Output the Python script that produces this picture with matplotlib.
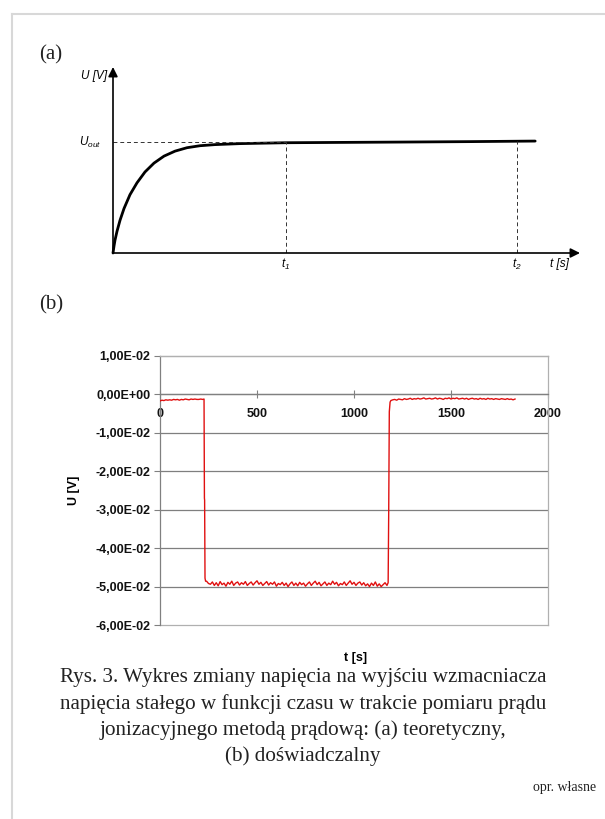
import matplotlib
matplotlib.use("Agg")
import matplotlib.pyplot as plt
import numpy as np
from matplotlib.lines import Line2D
from matplotlib.ticker import FuncFormatter

plt.rcParams['font.family'] = ['Liberation Sans', 'DejaVu Sans']
plt.rcParams['mathtext.fontset'] = 'custom'
plt.rcParams['mathtext.it'] = 'Liberation Sans:italic'
plt.rcParams['mathtext.rm'] = 'Liberation Sans:italic'

# ---- panel (a): theoretical curve (U scaled so that Uout = 1) ----
a_t = [0, 0.214, 0.428, 0.857, 1.50, 2.36, 3.64, 5.14, 6.85, 8.78, 10.92,
       13.28, 15.85, 18.63, 21.84, 27.19, 37.0, 61.5, 76.4, 90.4]
a_u = [0, 0.062, 0.116, 0.196, 0.295, 0.402, 0.527, 0.634, 0.732, 0.812,
       0.875, 0.920, 0.951, 0.969, 0.979, 0.988, 0.996, 1.002, 1.006, 1.011]
a_t1 = 37.0
a_t2 = 86.5
a_uout = 1.0

# ---- panel (b): measured output voltage, values in 1e-2 V ----
b_t_start = [0, 10, 20, 30, 40, 50, 60, 70, 80, 90, 100, 110, 120, 130,
             140, 150, 160, 170, 180, 190, 200, 210, 220, 227]
b_u_start = [-0.17, -0.15, -0.16, -0.14, -0.15, -0.14, -0.15, -0.13, -0.14,
             -0.13, -0.15, -0.13, -0.14, -0.12, -0.13, -0.14, -0.12, -0.13,
             -0.12, -0.13, -0.13, -0.12, -0.13, -0.12]
b_t_fall = [229, 230, 232, 235]
b_u_fall = [-2.70, -2.75, -4.78, -4.86]
b_t_low = np.arange(240, 1180, 10)
b_u_low = [-4.86, -4.92, -4.94, -4.88, -4.97, -4.90, -4.98, -4.87, -4.95, -4.91,
           -4.99, -4.89, -4.94, -4.86, -4.97, -4.91, -4.88, -4.96, -4.90, -4.94,
           -4.87, -4.97, -4.92, -4.88, -4.96, -4.90, -4.85, -4.94, -4.89, -4.97,
           -4.92, -4.87, -4.96, -4.90, -4.94, -4.88, -4.99, -4.92, -4.95, -4.89,
           -4.97, -4.91, -5.00, -4.93, -4.88, -4.97, -4.91, -4.98, -4.89, -4.95,
           -4.91, -4.99, -4.93, -4.88, -4.97, -4.91, -4.86, -4.95, -4.89, -4.98,
           -4.93, -4.88, -4.97, -4.91, -4.95, -4.86, -4.94, -4.89, -4.98, -4.92,
           -4.95, -4.88, -4.97, -4.91, -4.85, -4.94, -4.89, -4.97, -4.91, -4.88,
           -4.96, -4.90, -4.98, -4.93, -5.00, -4.91, -4.97, -4.88, -4.99, -4.93,
           -5.00, -4.95, -4.90, -4.97]
b_t_rise = [1176, 1179, 1182, 1186]
b_u_rise = [-4.90, -3.00, -0.45, -0.20]
b_t_end = np.arange(1190, 1840, 10)
b_u_end = [-0.16, -0.14, -0.13, -0.15, -0.12, -0.13, -0.14, -0.11, -0.13, -0.12,
           -0.10, -0.13, -0.11, -0.12, -0.10, -0.12, -0.11, -0.09, -0.12, -0.11,
           -0.10, -0.12, -0.11, -0.09, -0.12, -0.10, -0.11, -0.13, -0.10, -0.11,
           -0.09, -0.12, -0.10, -0.11, -0.09, -0.12, -0.11, -0.10, -0.12, -0.10,
           -0.13, -0.11, -0.10, -0.12, -0.11, -0.13, -0.10, -0.12, -0.11, -0.13,
           -0.10, -0.12, -0.11, -0.13, -0.11, -0.12, -0.13, -0.11, -0.12, -0.13,
           -0.11, -0.13, -0.12, -0.14, -0.12]

b_t = np.concatenate([b_t_start, b_t_fall, b_t_low, b_t_rise, b_t_end])
b_u = np.concatenate([b_u_start, b_u_fall, b_u_low, b_u_rise, b_u_end]) * 0.01

b_yticks = [0.01, 0.0, -0.01, -0.02, -0.03, -0.04, -0.05, -0.06]
b_xticks = [0, 500, 1000, 1500, 2000]

caption = ("Rys. 3. Wykres zmiany napięcia na wyjściu wzmacniacza\n"
           "napięcia stałego w funkcji czasu w trakcie pomiaru prądu\n"
           "jonizacyjnego metodą prądową: (a) teoretyczny,\n"
           "(b) doświadczalny")

W, H = 605, 819
fig = plt.figure(figsize=(W / 100, H / 100), dpi=100)

# page frame (left and top edge)
frame_c = '#d8d8d8'
fig.add_artist(Line2D([12 / W, 12 / W], [0, 1 - 14 / H], color=frame_c, lw=1.5,
                      transform=fig.transFigure))
fig.add_artist(Line2D([12 / W, 1], [1 - 14 / H, 1 - 14 / H], color=frame_c, lw=1.5,
                      transform=fig.transFigure))

serif = ['Liberation Serif', 'DejaVu Serif']
fig.text(39 / W, 1 - 55 / H, '(a)', family=serif, fontsize=15, va='center',
         color='#222222')
fig.text(39 / W, 1 - 305 / H, '(b)', family=serif, fontsize=15, va='center',
         color='#222222')

# ---------------- panel (a) ----------------
axa = fig.add_axes([113 / W, 1 - 253 / H, (580 - 113) / W, (253 - 67) / H])
axa.set_xlim(0, 100)
axa.set_ylim(0, 1.68)
axa.axis('off')
arr = dict(arrowstyle='-|>', lw=1.2, color='black', mutation_scale=14,
           shrinkA=0, shrinkB=0)
axa.annotate('', xy=(100, 0), xytext=(0, 0), arrowprops=arr, annotation_clip=False)
axa.annotate('', xy=(0, 1.68), xytext=(0, 0), arrowprops=arr, annotation_clip=False)
axa.plot(a_t, a_u, color='black', lw=2.0, solid_capstyle='round', clip_on=False)
dash = dict(color='#333333', lw=0.7, ls=(0, (4, 3)))
axa.plot([0, a_t1], [a_uout, a_uout], **dash)
axa.plot([a_t1, a_t1], [0, a_uout], **dash)
axa.plot([a_t2, a_t2], [0, a_uout + 0.01], **dash)
small = dict(fontsize=8.5, color='black')
axa.text(-1.3, 1.60, 'U [V]', ha='right', va='center', style='italic', **small)
axa.text(-2.5, a_uout, '$U_{out}$', ha='right', va='center', **small)
axa.text(a_t1, -0.1, '$t_1$', ha='center', va='center', **small)
axa.text(a_t2, -0.1, '$t_2$', ha='center', va='center', **small)
axa.text(93.5, -0.1, 't [s]', ha='left', va='center', style='italic', **small)

# ---------------- panel (b) ----------------
axb = fig.add_axes([160 / W, 1 - 625 / H, 388 / W, 269 / H])
axb.plot(b_t, b_u, color='#e01010', lw=1.0, zorder=3)
axb.set_xlim(0, 2000)
axb.set_ylim(-0.06, 0.01)
axb.set_yticks(b_yticks)
axb.set_xticks(b_xticks)
axb.yaxis.set_major_formatter(FuncFormatter(lambda v, p: f"{v:.2E}".replace('.', ',')))
axb.grid(axis='y', color='#7f7f7f', lw=0.9, zorder=1)
edge_c = '#b0b0b0'
gl = axb.yaxis.get_gridlines()
gl[0].set_color(edge_c)
gl[-1].set_color(edge_c)
gl[0].set_clip_on(False)
gl[-1].set_clip_on(False)
axb.spines['top'].set_color(edge_c)
axb.spines['right'].set_color(edge_c)
axb.spines['left'].set_color('#808080')
axb.spines['bottom'].set_position(('data', 0))
axb.spines['bottom'].set_color('#808080')
for s in axb.spines.values():
    s.set_linewidth(0.9)
axb.tick_params(axis='y', direction='out', length=4, width=0.8, color='#808080',
                labelsize=9, pad=3)
axb.tick_params(axis='x', direction='inout', length=6, width=0.8, color='#808080',
                labelsize=9, pad=7)
for lab in axb.get_xticklabels() + axb.get_yticklabels():
    lab.set_fontweight('bold')
    lab.set_color('#111111')
axb.set_ylabel('U [V]', fontsize=9, fontweight='bold')
axb.yaxis.set_label_coords((80 - 160) / 388, 0.5)
axb.set_xlabel('t [s]', fontsize=9, fontweight='bold')
axb.xaxis.set_label_coords(0.503, (625 - 652) / 269)

# caption
fig.text(303 / W, 1 - 717 / H, caption, family=serif, fontsize=15.2, ha='center',
         va='center', color='#222222', linespacing=1.43)
fig.text(596 / W, 1 - 788 / H, 'opr. własne', family=serif, fontsize=10,
         ha='right', va='center', color='#222222')

fig.savefig('out.png', dpi=100)
